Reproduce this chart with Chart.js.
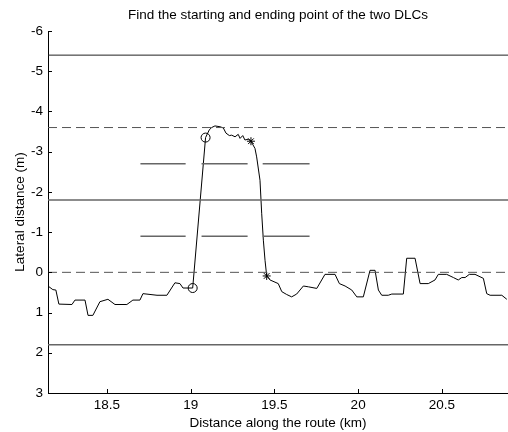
<!DOCTYPE html>
<html>
<head>
<meta charset="utf-8">
<script src="https://cdn.jsdelivr.net/npm/chart.js@4.4.1/dist/chart.umd.min.js"></script>
<style>
  body { margin: 0; background: #fff; }
  canvas { display: block; }
</style>
</head>
<body>
<canvas id="dlc" width="508" height="432"></canvas>
<script>
// vehicle path (km along route, lateral offset in m)
const routeKm = [18.148, 18.177, 18.195, 18.213, 18.291, 18.309, 18.369, 18.387, 18.416, 18.458,
  18.506, 18.548, 18.619, 18.655, 18.697, 18.715, 18.799, 18.858, 18.906, 18.936,
  18.954, 19.012, 19.089, 19.111, 19.125, 19.145, 19.175, 19.195, 19.211, 19.231,
  19.245, 19.265, 19.284, 19.295, 19.311, 19.324, 19.344, 19.360, 19.384, 19.394,
  19.414, 19.424, 19.434, 19.444, 19.454, 19.474, 19.523, 19.544, 19.573, 19.603,
  19.633, 19.673, 19.703, 19.753, 19.802, 19.862, 19.888, 19.922, 19.962, 19.992,
  20.031, 20.071, 20.101, 20.121, 20.141, 20.180, 20.201, 20.270, 20.290, 20.340,
  20.370, 20.419, 20.459, 20.479, 20.529, 20.569, 20.598, 20.619, 20.639, 20.664,
  20.698, 20.748, 20.768, 20.788, 20.858, 20.888];
const lateralM = [0.34, 0.43, 0.44, 0.79, 0.80, 0.69, 0.69, 1.07, 1.07, 0.73,
  0.67, 0.80, 0.80, 0.69, 0.69, 0.53, 0.57, 0.57, 0.26, 0.28,
  0.39, 0.39, -3.35, -3.54, -3.60, -3.64, -3.62, -3.59, -3.46, -3.40,
  -3.41, -3.37, -3.43, -3.33, -3.40, -3.29, -3.31, -3.26, -3.08, -2.87,
  -2.29, -1.47, -0.80, -0.30, 0.09, 0.19, 0.28, 0.48, 0.55, 0.61,
  0.54, 0.34, 0.36, 0.40, 0.05, 0.05, 0.28, 0.34, 0.44, 0.61,
  0.61, -0.05, -0.05, 0.44, 0.57, 0.57, 0.54, 0.54, -0.35, -0.35,
  0.28, 0.28, 0.19, 0.05, 0.05, 0.13, 0.19, 0.13, 0.13, 0.05,
  0.05, 0.15, 0.53, 0.57, 0.57, 0.67];

// detected DLC start (circles) and end (asterisks) points
const startKm = [19.012, 19.089];
const startLat = [0.39, -3.35];
const endKm = [19.360, 19.454];
const endLat = [-3.26, 0.09];

// lane markings and cone rows
const xRange = [18.148, 20.895];
const solidLaneY = [-5.4, -1.8, 1.8];
const dashedLaneY = [-3.6, 0];
const coneRowY = [-2.7, -0.9];
const coneSegKm = [[18.70, 18.97], [19.065, 19.34], [19.43, 19.71]];

const xTickValues = [18.5, 19, 19.5, 20, 20.5];
const yTickValues = [-6, -5, -4, -3, -2, -1, 0, 1, 2, 3];

const FONT = "Arial, 'Liberation Sans', Helvetica, sans-serif";

const toPts = (xs, ys) => xs.map((x, i) => ({ x: x, y: ys[i] }));

const datasets = [];

solidLaneY.forEach((y, i) => {
  datasets.push({
    data: xRange.map((x) => ({ x: x, y: y })),
    borderColor: i === 0 ? "#222" : "#666",
    borderWidth: i === 0 ? 1 : 1.5,
    showLine: true,
    pointRadius: 0,
  });
});

dashedLaneY.forEach((y) => {
  datasets.push({
    data: xRange.map((x) => ({ x: x, y: y })),
    borderColor: "#555",
    borderWidth: 1,
    borderDash: [9, 5],
    showLine: true,
    pointRadius: 0,
  });
});

coneRowY.forEach((y) => {
  const pts = [];
  coneSegKm.forEach((seg) => {
    pts.push({ x: seg[0], y: y }, { x: seg[1], y: y }, { x: seg[1], y: null });
  });
  datasets.push({
    data: pts,
    borderColor: "#666",
    borderWidth: 1.5,
    showLine: true,
    spanGaps: false,
    pointRadius: 0,
  });
});

datasets.push({
  data: toPts(routeKm, lateralM),
  borderColor: "#000",
  borderWidth: 1,
  showLine: true,
  pointRadius: 0,
});

datasets.push({
  data: toPts(startKm, startLat),
  pointStyle: "circle",
  pointRadius: 4.5,
  borderColor: "#000",
  backgroundColor: "rgba(0,0,0,0)",
  borderWidth: 1,
  showLine: false,
});

datasets.push({
  data: toPts(endKm, endLat),
  pointStyle: "star",
  pointRadius: 4,
  borderColor: "#000",
  borderWidth: 1,
  showLine: false,
});

// MATLAB-style inward ticks
const inwardTicks = {
  id: "inwardTicks",
  afterDraw(chart) {
    const { ctx, chartArea, scales } = chart;
    ctx.save();
    ctx.strokeStyle = "#000";
    ctx.lineWidth = 1;
    ctx.beginPath();
    xTickValues.forEach((v) => {
      const px = Math.round(scales.x.getPixelForValue(v)) + 0.5;
      ctx.moveTo(px, chartArea.bottom);
      ctx.lineTo(px, chartArea.bottom - 4);
    });
    yTickValues.forEach((v) => {
      const py = Math.round(scales.y.getPixelForValue(v)) + 0.5;
      ctx.moveTo(chartArea.left, py);
      ctx.lineTo(chartArea.left + 4, py);
    });
    ctx.stroke();
    ctx.restore();
  },
};

new Chart(document.getElementById("dlc"), {
  type: "scatter",
  data: { datasets: datasets },
  options: {
    responsive: false,
    animation: false,
    layout: { autoPadding: false, padding: { left: 0, right: 0, top: 0, bottom: 0 } },
    plugins: {
      legend: { display: false },
      tooltip: { enabled: false },
      title: {
        display: true,
        fullSize: false,
        text: "Find the starting and ending point of the two DLCs",
        color: "#000",
        font: { family: FONT, size: 13.5, weight: "normal" },
        padding: { top: 6.9, bottom: 7.9 },
      },
    },
    scales: {
      x: {
        type: "linear",
        min: xRange[0],
        max: xRange[1],
        afterBuildTicks: (scale) => {
          scale.ticks = xTickValues.map((v) => ({ value: v }));
        },
        afterFit: (scale) => {
          scale.height = 39;
          scale.paddingLeft = 0;
          scale.paddingRight = 0;
        },
        ticks: {
          color: "#000",
          padding: 4,
          font: { family: FONT, size: 13.5 },
          callback: (v) => String(v),
        },
        grid: { display: true, drawOnChartArea: false, drawTicks: false },
        border: { display: true, color: "#000", width: 1 },
        title: {
          display: true,
          text: "Distance along the route (km)",
          color: "#000",
          font: { family: FONT, size: 13.5 },
          padding: { top: 0, bottom: 0.9 },
        },
      },
      y: {
        type: "linear",
        reverse: true,
        min: -6,
        max: 3,
        afterBuildTicks: (scale) => {
          scale.ticks = yTickValues.map((v) => ({ value: v }));
        },
        afterFit: (scale) => {
          scale.width = 48;
          scale.paddingTop = 0;
          scale.paddingBottom = 0;
        },
        ticks: {
          color: "#000",
          padding: 5,
          font: { family: FONT, size: 13.5 },
          callback: (v) => String(v),
        },
        grid: { display: true, drawOnChartArea: false, drawTicks: false },
        border: { display: true, color: "#000", width: 1 },
        title: {
          display: true,
          text: "Lateral distance (m)",
          color: "#000",
          font: { family: FONT, size: 13.5 },
          padding: { top: 11.9, bottom: 0 },
        },
      },
    },
  },
  plugins: [inwardTicks],
});
</script>
</body>
</html>
